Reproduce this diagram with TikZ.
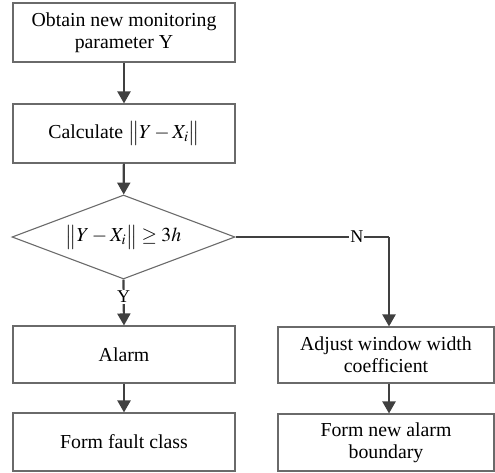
\documentclass[tikz,border=0pt]{standalone}
\usepackage{mathptmx}
\usepackage{fontspec}
\setmainfont{Liberation Serif}
\usetikzlibrary{arrows.meta,shapes.geometric}
\definecolor{boxline}{HTML}{6A6A6A}
\definecolor{arrowc}{HTML}{404040}
\tikzset{
  stepbox/.style={draw=boxline, line width=1.1pt, rectangle, inner sep=0pt, align=center, font=\fontsize{19.8}{22}\selectfont},
  decide/.style={draw=boxline, line width=1.1pt, diamond, inner sep=0pt, font=\fontsize{19.8}{22}\selectfont},
  flow/.style={draw=arrowc, line width=2.2pt, -{Triangle[length=12pt,width=13pt]}},
  plainline/.style={draw=arrowc, line width=2.2pt},
  lbl/.style={fill=white, inner sep=1pt, font=\fontsize{18}{20}\selectfont}
}
\begin{document}
\begin{tikzpicture}[x=1pt,y=-1pt]
\useasboundingbox (0,0) rectangle (495,472);
\node[stepbox, minimum width=222pt, minimum height=59pt] (b1) at (124,32.5) {Obtain new monitoring\\parameter Y};
\node[stepbox, minimum width=222pt, minimum height=59pt] (b2) at (124,133.5) {Calculate $\big\| Y - X_i \big\|$};
\node[decide, minimum width=223pt, minimum height=84pt, aspect=2.65] (d) at (123.5,237) {$\big\| Y - X_i \big\| \geq 3h$};
\node[stepbox, minimum width=222pt, minimum height=57pt] (b3) at (124,354.5) {Alarm};
\node[stepbox, minimum width=222pt, minimum height=58pt] (b4) at (124,442) {Form fault class};
\node[stepbox, minimum width=216pt, minimum height=56pt] (r1) at (386,355) {Adjust window width\\coefficient};
\node[stepbox, minimum width=216pt, minimum height=57pt] (r2) at (386,442.5) {Form new alarm\\boundary};
\coordinate (corner) at (389,237);
\draw[flow] (b1) -- (b2);
\draw[flow] (b2) -- (d);
\draw[flow] (d.south) -- node[lbl, pos=0.38] {Y} (b3.north);
\draw[flow] (b3) -- (b4);
\draw[plainline] (d.east) -- node[lbl, pos=0.79] {N} (corner);
\draw[flow] (corner) -- (corner |- r1.north);
\draw[flow] (r1.south -| corner) -- (corner |- r2.north);
\end{tikzpicture}
\end{document}
